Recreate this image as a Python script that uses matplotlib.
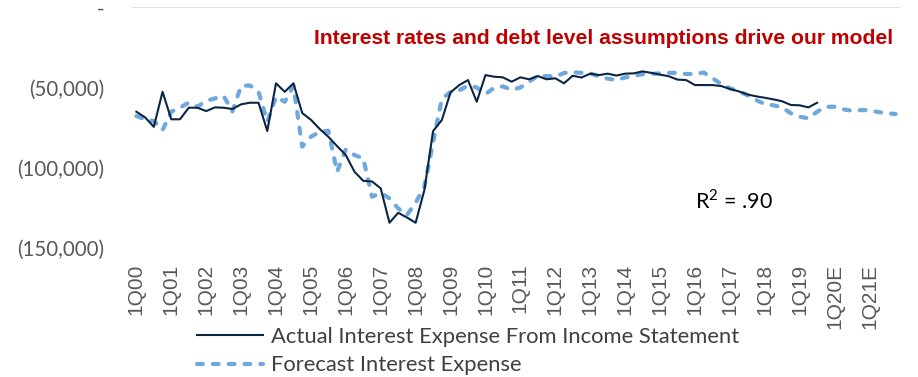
import matplotlib

matplotlib.use("Agg")
import matplotlib.pyplot as plt
from matplotlib.ticker import FixedLocator, FuncFormatter

plt.rcParams["mathtext.fontset"] = "custom"
plt.rcParams["mathtext.rm"] = "Lato"

# Quarterly interest expense, 1Q00 through 4Q21 (estimates from 2020 on)
years = list(range(2000, 2022))
quarters = [f"{q}Q{y % 100:02d}" + ("E" if y >= 2020 else "") for y in years for q in range(1, 5)]

actual = [
    -65000, -68500, -74400, -52600, -69700, -69700, -62500, -62500,
    -64600, -62300, -62500, -63300, -60400, -59400, -59400, -77000,
    -47300, -52600, -47300, -65800, -70000, -75700, -80600, -86400,
    -92000, -102400, -108000, -108400, -112700, -134100, -127900, -130800,
    -134100, -113800, -77000, -70200, -53000, -48400, -45300, -58800,
    -42200, -43200, -43600, -46300, -43600, -44800, -42800, -44800,
    -44200, -47300, -42600, -43700, -41300, -42200, -41300, -42500,
    -41300, -41100, -39900, -40800, -41900, -42900, -45000, -45300,
    -48400, -48400, -48400, -49000, -50800, -52300, -54200, -55400,
    -56300, -57300, -58500, -60800, -61000, -62300, -59400,
]

forecast = [
    -67700, -69700, -70800, -76400, -65000, -62400, -59400, -61900,
    -58200, -56700, -55200, -64800, -49000, -48600, -52600, -71200,
    -55700, -58800, -49000, -86700, -80600, -77500, -76800, -102400,
    -88400, -92000, -94000, -117900, -115500, -118900, -125200, -129300,
    -121700, -111700, -83900, -57100, -52700, -51700, -48700, -49900,
    -54000, -50100, -49200, -51500, -49900, -46300, -42700, -42800,
    -43100, -40900, -40400, -40800, -41100, -43000, -44400, -45300,
    -43700, -42700, -41600, -41400, -41100, -40800, -40800, -41500,
    -41500, -40600, -44000, -47800, -50300, -52300, -54600, -57700,
    -60200, -61000, -62300, -66000, -68100, -69100, -65000, -61900,
    -61900, -63500, -64400, -64000, -64000, -65200, -66000, -66400,
]

y_ticks = [0, -50000, -100000, -150000]

NAVY = "#0B2545"
LIGHT_BLUE = "#6EA8DC"
GRAY_TEXT = "#595959"
RED = "#C00000"

W, H = 918, 377
fig = plt.figure(figsize=(W / 100, H / 100), dpi=100)
ax = fig.add_axes([132 / W, 1 - 248.3 / H, (900 - 132) / W, (248.3 - 7.3) / H])

x_fc = list(range(len(forecast)))
x_act = list(range(len(actual)))

ax.plot(x_fc, forecast, color=LIGHT_BLUE, linewidth=3.0, dashes=(1.4, 2.4),
        dash_capstyle="round", label="Forecast Interest Expense", zorder=2)
ax.plot(x_act, actual, color=NAVY, linewidth=1.5,
        label="Actual Interest Expense From Income Statement", zorder=3)

ax.set_xlim(-0.5, len(quarters) - 0.5)
ax.set_ylim(-150000, 0)
ax.axhline(0, color="#D9D9D9", linewidth=1.2, zorder=1)

for s in ax.spines.values():
    s.set_visible(False)

ax.yaxis.set_major_locator(FixedLocator(y_ticks))
ax.yaxis.set_major_formatter(FuncFormatter(
    lambda v, _: "-" if v == 0 else f"({abs(v):,.0f})"))
ax.tick_params(axis="y", length=0, pad=20, labelsize=14.8, labelcolor=GRAY_TEXT)
for lab in ax.get_yticklabels():
    lab.set_family("Lato")

tick_pos = list(range(0, len(quarters), 4))
ax.set_xticks(tick_pos)
ax.set_xticklabels([quarters[i] for i in tick_pos], rotation=90,
                   family="Liberation Sans", fontsize=15, color=GRAY_TEXT)
ax.tick_params(axis="x", length=0, pad=11)

fig.text(893 / W, 1 - 38 / H, "Interest rates and debt level assumptions drive our model",
         ha="right", va="center", color=RED, fontsize=15.2, fontweight="bold",
         family="Liberation Sans")

ax.text(695 / W, 1 - 201 / H, r"R$^\mathrm{2}$ = .90", transform=fig.transFigure,
        ha="left", va="center", fontsize=15.5, family="Lato", color="black")

handles, labels = ax.get_legend_handles_labels()
fig.legend(handles[::-1], labels[::-1], loc="upper left",
           bbox_to_anchor=(197 / W, 1 - 327 / H), frameon=False,
           prop={"family": "Lato", "size": 15.8}, labelcolor="#404040",
           handlelength=3.0, handletextpad=0.35, labelspacing=0.38,
           borderpad=0, borderaxespad=0)

fig.savefig("out.png", dpi=100)
